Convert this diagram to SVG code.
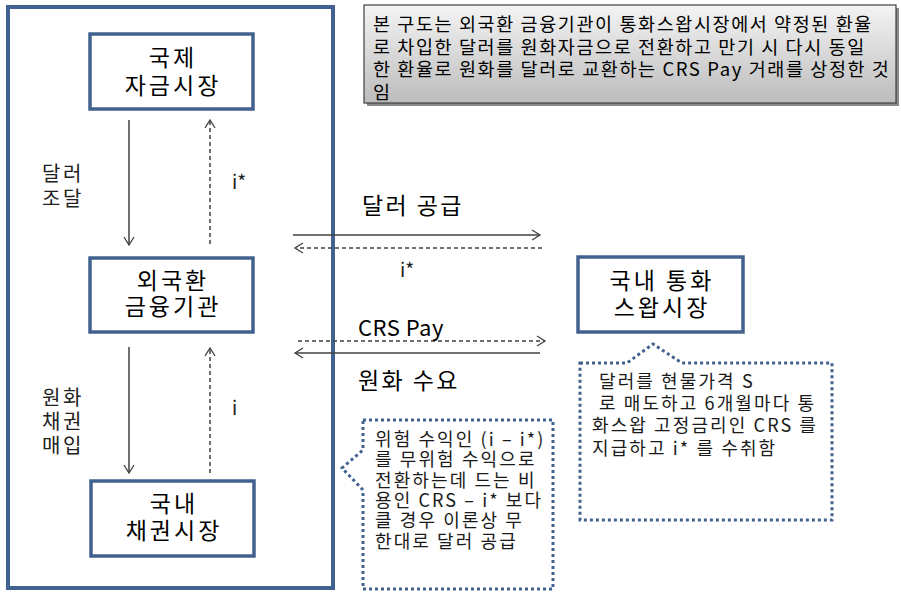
<svg xmlns="http://www.w3.org/2000/svg" width="901" height="592" viewBox="0 0 901 592">
<defs>
<linearGradient id="gr" x1="0" y1="0" x2="0" y2="1">
<stop offset="0" stop-color="#f4f4f4"/>
<stop offset="1" stop-color="#bcbcbc"/>
</linearGradient>
<marker id="ah" markerWidth="12" markerHeight="12" refX="9" refY="6" orient="auto" markerUnits="userSpaceOnUse">
<path d="M1,1 L9,6 L1,11" fill="none" stroke="#404040" stroke-width="1.3"/>
</marker>
<style>
text{font-family:"Noto Sans CJK KR","Malgun Gothic",sans-serif;fill:#000;dominant-baseline:central}
.node{fill:#fff;stroke:#41628f;stroke-width:3.5}
.nt{font-size:23px;text-anchor:middle;letter-spacing:3px}
.lb{font-size:20px;letter-spacing:2.5px;fill:#202020}
.ii{font-size:19px;fill:#202020}
.mid{font-size:23px;letter-spacing:2.4px}
.crs{font-size:22px;letter-spacing:0.5px}
.note{font-size:18.5px;letter-spacing:1.6px}
.cl{font-size:18px;letter-spacing:2.1px;fill:#1a1a1a}
.sol{stroke:#404040;stroke-width:1.5;fill:none;marker-end:url(#ah)}
.das{stroke:#404040;stroke-width:1.5;fill:none;stroke-dasharray:4 3;marker-end:url(#ah)}
.dot{fill:#fff;stroke:#41628f;stroke-width:3;stroke-dasharray:3 3}
</style>
</defs>
<rect width="901" height="592" fill="#fff"/>
<g id="outer"><rect x="8" y="7" width="325" height="581" fill="none" stroke="#41628f" stroke-width="4"/></g>
<g id="note">
<rect x="367" y="8" width="532" height="98" fill="#8a8a8a"/>
<rect x="364" y="5" width="532" height="98" fill="url(#gr)" stroke="#404040" stroke-width="1.2"/>
<text class="note" x="373" y="23">본 구도는 외국환 금융기관이 통화스왑시장에서 약정된 환율</text>
<text class="note" x="373" y="46">로 차입한 달러를 원화자금으로 전환하고 만기 시 다시 동일</text>
<text class="note" x="373" y="68">한 환율로 원화를 달러로 교환하는 CRS Pay 거래를 상정한 것</text>
<text class="note" x="373" y="91">임</text>
</g>
<g id="n1"><rect class="node" x="90" y="34" width="163" height="75"/>
<text class="nt" x="173" y="56">국제</text><text class="nt" x="173" y="84">자금시장</text></g>
<g id="n2"><rect class="node" x="90" y="258" width="163" height="74"/>
<text class="nt" x="173" y="279">외국환</text><text class="nt" x="173" y="305">금융기관</text></g>
<g id="n3"><rect class="node" x="91" y="481" width="163" height="75"/>
<text class="nt" x="174" y="502">국내</text><text class="nt" x="174" y="529">채권시장</text></g>
<g id="n4"><rect class="node" x="578" y="257" width="165" height="75"/>
<text class="nt" x="662" y="279">국내 통화</text><text class="nt" x="662" y="306">스왑시장</text></g>
<g id="connectors">
<line class="sol" x1="129" y1="120" x2="129" y2="245"/>
<line class="das" x1="210" y1="244" x2="210" y2="120"/>
<line class="sol" x1="129" y1="347" x2="129" y2="473"/>
<line class="das" x1="210" y1="473" x2="210" y2="348"/>
<line class="sol" x1="293" y1="235" x2="540" y2="235"/>
<line class="das" x1="542" y1="248" x2="295" y2="248"/>
<line class="das" x1="298" y1="341" x2="545" y2="341"/>
<line class="sol" x1="540" y1="353" x2="295" y2="353"/>
</g>
<g id="labels">
<text class="lb" x="42" y="172">달러</text>
<text class="lb" x="42" y="197">조달</text>
<text class="ii" x="232" y="180">i*</text>
<text class="lb" x="42" y="396">원화</text>
<text class="lb" x="42" y="420">채권</text>
<text class="lb" x="42" y="444">매입</text>
<text class="ii" x="232" y="406">i</text>
<text class="mid" x="362" y="204">달러 공급</text>
<text class="ii" x="400" y="268">i*</text>
<text class="crs" x="358" y="326">CRS Pay</text>
<text class="mid" x="358" y="379">원화 수요</text>
</g>
<g id="callout-left">
<path class="dot" d="M363,420 L553,420 L553,589 L363,589 L363,490 L342,468 L363,450 Z"/>
<text class="cl" x="375" y="438">위험 수익인 (i – i*)</text>
<text class="cl" x="375" y="458">를 무위험 수익으로</text>
<text class="cl" x="375" y="479">전환하는데 드는 비</text>
<text class="cl" x="375" y="499">용인 CRS – i* 보다</text>
<text class="cl" x="375" y="519">클 경우 이론상 무</text>
<text class="cl" x="375" y="540">한대로 달러 공급</text>
</g>
<g id="callout-right">
<path class="dot" d="M580,363 L627,363 L653,344 L682,363 L832,363 L832,520 L580,520 Z"/>
<text class="cl" x="599" y="380">달러를 현물가격 S</text>
<text class="cl" x="599" y="402">로 매도하고 6개월마다 통</text>
<text class="cl" x="592" y="424">화스왑 고정금리인 CRS 를</text>
<text class="cl" x="592" y="447">지급하고 i* 를 수취함</text>
</g>
</svg>
